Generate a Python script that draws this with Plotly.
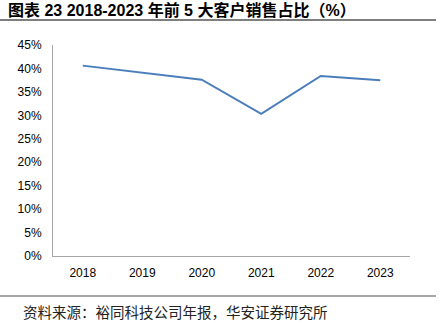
import plotly.graph_objects as go

years = ["2018", "2019", "2020", "2021", "2022", "2023"]
share = [40.6, 39.1, 37.6, 30.3, 38.4, 37.5]
y_ticks = [0, 5, 10, 15, 20, 25, 30, 35, 40, 45]
y_labels = [f"{v}%" for v in y_ticks]

W, H = 440, 324
L, R, T, B = 53, 30, 45, 68
pw, ph = W - L - R, H - T - B

def px_x(x):
    return (x - L) / pw

def px_y(y):
    return (H - B - y) / ph

fig = go.Figure(go.Scatter(x=years, y=share, mode="lines",
                           line=dict(color="#4a7ebb", width=2)))

fig.update_layout(
    width=W, height=H, margin=dict(l=L, r=R, t=T, b=B),
    paper_bgcolor="white", plot_bgcolor="white", showlegend=False,
    font=dict(family="Liberation Sans, Arial", size=12, color="black"),
)
fig.update_xaxes(type="category", range=[-0.5, 5.5],
                 showline=True, linecolor="#a6a6a6", linewidth=1,
                 showgrid=False, ticks="outside", ticklen=6, tickcolor="rgba(0,0,0,0)",
                 tickfont=dict(size=12))
fig.update_yaxes(range=[0, 45], tickvals=y_ticks, ticktext=y_labels,
                 showline=True, linecolor="#a6a6a6", linewidth=1,
                 showgrid=False, zeroline=False, ticks="outside", ticklen=8,
                 tickcolor="rgba(0,0,0,0)", tickfont=dict(size=12))

fig.add_annotation(text="<b>图表 23 2018-2023 年前 5 大客户销售占比（%）</b>",
                   xref="paper", yref="paper", x=px_x(6), y=px_y(10),
                   xanchor="left", yanchor="middle", showarrow=False,
                   font=dict(family="Liberation Sans, Noto Sans CJK SC", size=16, color="black"))
fig.add_shape(type="line", xref="paper", yref="paper",
              x0=px_x(0), x1=px_x(436), y0=px_y(20), y1=px_y(20),
              line=dict(color="#555555", width=1.5))
fig.add_shape(type="line", xref="paper", yref="paper",
              x0=px_x(0), x1=px_x(436), y0=px_y(296), y1=px_y(296),
              line=dict(color="#888888", width=1.5))
fig.add_annotation(text="资料来源：裕同科技公司年报，华安证券研究所",
                   xref="paper", yref="paper", x=px_x(21), y=px_y(311),
                   xanchor="left", yanchor="middle", showarrow=False,
                   font=dict(family="Noto Sans CJK SC", size=14.5, color="#222222"))

fig.write_html("out.html")
